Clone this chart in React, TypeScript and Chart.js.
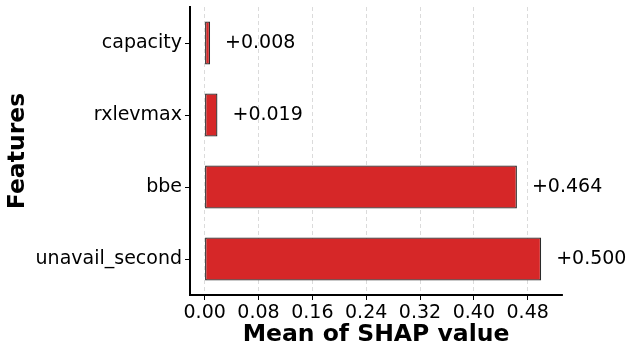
import React, { useEffect, useRef } from "react";
import { Chart, registerables } from "chart.js";

Chart.register(...registerables);

const categories = ["capacity", "rxlevmax", "bbe", "unavail_second"];
const shapValues = [0.008, 0.019, 0.464, 0.5];
const valueLabels = ["+0.008", "+0.019", "+0.464", "+0.500"];
const xTickValues = [0.0, 0.08, 0.16, 0.24, 0.32, 0.4, 0.48];

const FONT = "'DejaVu Sans', 'Liberation Sans', sans-serif";

const valueLabelPlugin = {
  id: "valueLabels",
  afterDatasetsDraw(chart: any) {
    const { ctx } = chart;
    const meta = chart.getDatasetMeta(0);
    const xScale = chart.scales.x;
    ctx.save();
    ctx.font = `19px ${FONT}`;
    ctx.fillStyle = "#000";
    ctx.textAlign = "left";
    ctx.textBaseline = "middle";
    meta.data.forEach((bar: any, i: number) => {
      const x = xScale.getPixelForValue(shapValues[i]) + 15;
      ctx.fillText(valueLabels[i], x, bar.y);
    });
    ctx.restore();
  },
};

export default function App() {
  const canvasRef = useRef<HTMLCanvasElement | null>(null);

  useEffect(() => {
    document.body.style.margin = "0";
    const canvas = canvasRef.current;
    if (!canvas) return;
    const chart = new Chart(canvas, {
      type: "bar",
      data: {
        labels: categories,
        datasets: [
          {
            data: shapValues,
            backgroundColor: "#d62728",
            borderColor: "#2b2b2b",
            borderWidth: 1.3,
            borderSkipped: false,
            barPercentage: 0.6,
            categoryPercentage: 1,
          },
        ],
      },
      options: {
        indexAxis: "y",
        animation: false,
        responsive: false,
        devicePixelRatio: 1,
        layout: { padding: { top: 7, right: 72, left: 0, bottom: 0 } },
        plugins: {
          legend: { display: false },
          tooltip: { enabled: false },
        },
        scales: {
          x: {
            type: "linear",
            min: -0.0218,
            max: 0.531,
            afterBuildTicks: (scale: any) => {
              scale.ticks = xTickValues.map((v) => ({ value: v }));
            },
            afterFit: (scale: any) => {
              scale.height = 60;
              scale.paddingLeft = 0;
              scale.paddingRight = 0;
            },
            ticks: {
              callback: (v: any) => Number(v).toFixed(2),
              color: "#000",
              font: { family: FONT, size: 19 },
              padding: 2,
              maxRotation: 0,
              autoSkip: false,
            },
            grid: {
              color: "rgba(190,190,190,0.7)",
              lineWidth: 0.8,
              drawTicks: true,
              tickLength: 5,
              tickColor: "#000",
              tickWidth: 1,
              tickBorderDash: [],
            },
            border: { display: true, color: "#000", width: 2, dash: [4, 3] },
            title: {
              display: true,
              text: "Mean of SHAP value",
              color: "#000",
              font: { family: FONT, size: 23.5, weight: "bold" },
              padding: { top: 0, bottom: 6 },
            },
          },
          y: {
            type: "category",
            afterFit: (scale: any) => {
              scale.width = 190;
              scale.paddingTop = 0;
              scale.paddingBottom = 0;
            },
            ticks: {
              color: "#000",
              font: { family: FONT, size: 19 },
              padding: 3,
            },
            grid: {
              offset: false,
              drawOnChartArea: false,
              drawTicks: true,
              tickLength: 5,
              tickColor: "#000",
              tickWidth: 1,
            },
            border: { display: true, color: "#000", width: 2 },
            title: {
              display: true,
              text: "Features",
              color: "#000",
              font: { family: FONT, size: 23.5, weight: "bold" },
              padding: { top: 4, bottom: 0 },
            },
          },
        },
      } as any,
      plugins: [valueLabelPlugin],
    });
    return () => chart.destroy();
  }, []);

  return (
    <div style={{ position: "fixed", left: 0, top: 0, width: 634, height: 355, background: "#fff" }}>
      <canvas ref={canvasRef} width={634} height={355} style={{ width: 634, height: 355 }} />
    </div>
  );
}
